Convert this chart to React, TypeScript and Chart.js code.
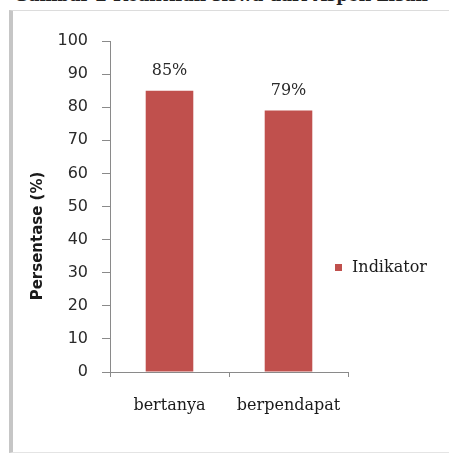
import React, { useEffect, useRef } from "react";
import { Chart, registerables } from "chart.js";

Chart.register(...registerables);

const categories = ["bertanya", "berpendapat"];
const seriesLabel = "Indikator";
const seriesValues = [85, 79];
const valueLabels = ["85%", "79%"];
const yTicks = [0, 10, 20, 30, 40, 50, 60, 70, 80, 90, 100];
const yTitle = "Persentase (%)";
const caption = "Gambar 2 Keaktifan siswa dari Aspek Lisan";

const BAR = "#c0504d";

export default function App() {
  const ref = useRef<HTMLCanvasElement | null>(null);

  useEffect(() => {
    if (!ref.current) return;
    const extras = {
      id: "extras",
      afterDatasetsDraw(chart: any) {
        const ctx = chart.ctx;
        const meta = chart.getDatasetMeta(0);
        ctx.save();
        ctx.fillStyle = "#2a2a2a";
        ctx.font = "16px 'DejaVu Serif'";
        ctx.textAlign = "center";
        ctx.textBaseline = "middle";
        meta.data.forEach((bar: any, i: number) => {
          ctx.fillText(valueLabels[i], bar.x, bar.y - 20);
        });
        // legend
        const ds = chart.data.datasets[0];
        ctx.fillStyle = ds.backgroundColor;
        ctx.fillRect(335, 264, 7, 7);
        ctx.fillStyle = "#1a1a1a";
        ctx.textAlign = "left";
        ctx.fillText(ds.label, 352, 268);
        // y title
        ctx.translate(38, 236);
        ctx.rotate(-Math.PI / 2);
        ctx.font = "bold 15px 'DejaVu Sans'";
        ctx.textAlign = "center";
        ctx.fillStyle = "#1a1a1a";
        ctx.fillText(yTitle, 0, 0);
        ctx.restore();
      },
    };
    const chart = new Chart(ref.current, {
      type: "bar",
      data: {
        labels: categories,
        datasets: [
          {
            label: seriesLabel,
            data: seriesValues,
            backgroundColor: BAR,
            barPercentage: 0.8,
            categoryPercentage: 0.5,
          },
        ],
      },
      options: {
        responsive: false,
        animation: false,
        layout: { padding: { left: 0, right: 101, top: 41, bottom: 0 } },
        plugins: { legend: { display: false }, tooltip: { enabled: false } },
        scales: {
          x: {
            offset: true,
            afterFit(scale: any) {
              scale.height = 83;
            },
            grid: {
              display: true,
              offset: true,
              drawOnChartArea: false,
              drawTicks: true,
              tickLength: 5,
              color: "#8a8a8a",
            },
            border: { color: "#8a8a8a" },
            ticks: {
              color: "#1a1a1a",
              padding: 19,
              font: { family: "'DejaVu Serif'", size: 16 },
            },
          },
          y: {
            min: 0,
            max: 100,
            afterFit(scale: any) {
              scale.width = 110;
            },
            afterBuildTicks(scale: any) {
              scale.ticks = yTicks.map((v) => ({ value: v }));
            },
            grid: {
              display: true,
              drawOnChartArea: false,
              drawTicks: true,
              tickLength: 8,
              color: "#8a8a8a",
            },
            border: { color: "#8a8a8a" },
            ticks: {
              color: "#2a2a2a",
              padding: 14,
              font: { family: "'DejaVu Sans'", size: 16 },
            },
          },
        },
      },
      plugins: [extras],
    });
    return () => chart.destroy();
  }, []);

  return (
    <div
      style={{
        position: "fixed",
        left: 0,
        top: 0,
        width: 449,
        height: 455,
        overflow: "hidden",
        background: "#fff",
      }}
    >
      <div
        style={{
          position: "absolute",
          left: 14,
          top: -14,
          whiteSpace: "nowrap",
          fontFamily: "'DejaVu Serif'",
          fontWeight: "bold",
          fontSize: 17,
          color: "#222",
          lineHeight: "18px",
        }}
      >
        {caption}
      </div>
      <div
        style={{
          position: "absolute",
          left: 9,
          top: 10,
          width: 470,
          height: 441,
          borderLeft: "4px solid #c6c6c6",
          borderTop: "1px solid #dcdcdc",
          borderBottom: "1px solid #e4e4e4",
        }}
      />
      <canvas
        ref={ref}
        width={449}
        height={455}
        style={{ position: "absolute", left: 0, top: 0 }}
      />
    </div>
  );
}
